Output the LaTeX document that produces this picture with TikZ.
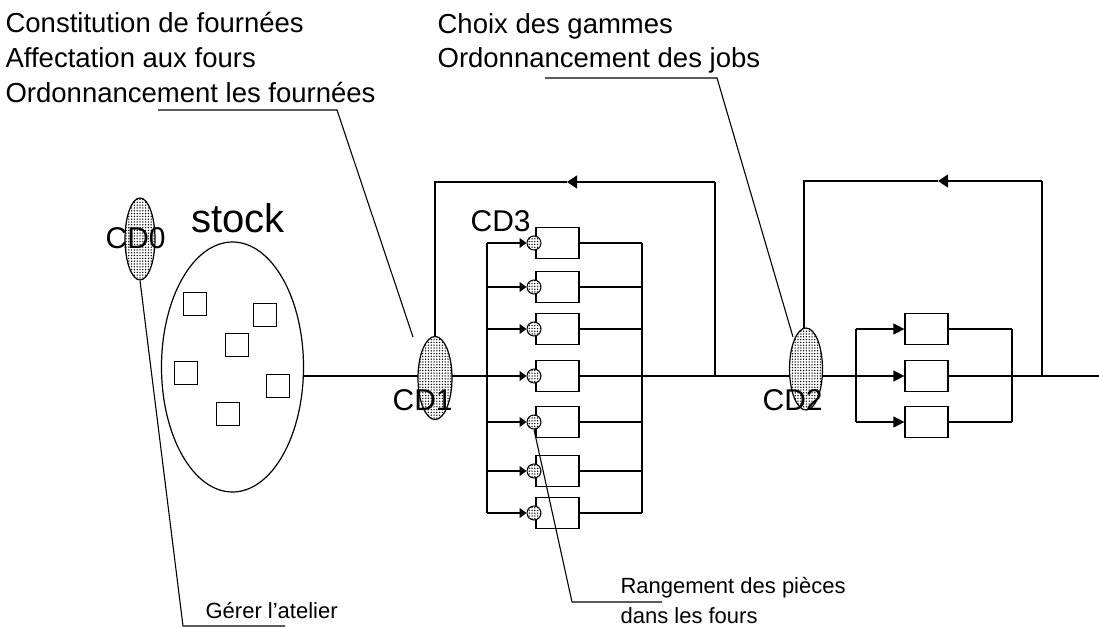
\documentclass[tikz,border=0pt]{standalone}
\usepackage{fontspec}
\setmainfont{Liberation Sans}
\usetikzlibrary{arrows.meta,patterns,shapes.geometric}
\pgfdeclarepatternformonly{mydots}{\pgfqpoint{-1pt}{-1pt}}{\pgfqpoint{1pt}{1pt}}{\pgfqpoint{2.8pt}{2.8pt}}{%
  \pgfpathcircle{\pgfqpoint{0pt}{0pt}}{0.75pt}\pgfusepath{fill}}
\newcommand\anfont{\fontsize{27.5}{33}\selectfont}
\newcommand\cdfont{\fontsize{30}{36}\selectfont}
\newcommand\stfont{\fontsize{40}{46}\selectfont}
\newcommand\smfont{\fontsize{22}{26}\selectfont}
\begin{document}
\begin{tikzpicture}[x=1pt,y=-1pt,line width=1.2pt,
  cdell/.style={ellipse,draw,preaction={fill=white},pattern=mydots,
    minimum width=33pt,minimum height=82pt,inner sep=0pt},
  lbl/.style={anchor=base west,inner sep=0pt},
  item/.style={draw,minimum width=23pt,minimum height=23pt,inner sep=0pt},
  four/.style={draw,fill=white,minimum width=43pt,minimum height=31pt,inner sep=0pt},
  port/.style={circle,draw,preaction={fill=white},pattern=mydots,
    minimum size=14pt,inner sep=0pt,line width=1pt},
  smarr/.style={-{Triangle[length=7pt,width=10pt]}},
  bigarr/.style={-{Triangle[length=11pt,width=11pt]}},
  looparr/.style={-{Triangle[length=10pt,width=13pt]}},
  leader/.style={line width=1.1pt}]
\useasboundingbox (0,0) rectangle (1099,628);

% ---------- texts ----------
\node[lbl,font=\anfont] (ta1) at (5,33) {Constitution de fournées};
\node[lbl,font=\anfont] (ta2) at (5,68) {Affectation aux fours};
\node[lbl,font=\anfont] (ta3) at (5,103) {Ordonnancement les fournées};
\node[lbl,font=\anfont] (tb1) at (437,34) {Choix des gammes};
\node[lbl,font=\anfont] (tb2) at (437,68) {Ordonnancement des jobs};
\node[lbl,font=\smfont] (tc) at (205,618) {Gérer l’atelier};
\node[lbl,font=\smfont] (td1) at (620,593) {Rangement des pièces};
\node[lbl,font=\smfont] (td2) at (620,623) {dans les fours};

% ---------- stock ----------
\node[ellipse,draw,minimum width=142pt,minimum height=250pt,inner sep=0pt] (stock) at (232.5,367) {};
\node[lbl,font=\stfont] (stocklbl) at (191,233) {stock};
\node[item] (s1) at (195,304) {};
\node[item] (s2) at (265,315) {};
\node[item] (s3) at (237,345) {};
\node[item] (s4) at (186,373) {};
\node[item] (s5) at (278,386) {};
\node[item] (s6) at (228,414) {};

% ---------- CD3 group (fours) ----------
\foreach \i/\y in {1/243,2/287,3/329,4/376,5/422,6/471,7/513}{
  \coordinate (L\i) at (487,\y);
  \coordinate (R\i) at (642,\y);
  \node[four] (f\i) at (557.5,\y) {};
  \node[port] (p\i) at (534,\y) {};
}
\draw (L1) -- (L7);
\draw (R1) -- (R7);
\foreach \i in {1,2,3,5,6,7}{
  \draw[smarr] (L\i) -- (p\i.west);
}
\foreach \i in {1,...,7}{
  \draw (f\i.east) -- (R\i);
}

% ---------- CD2 group ----------
\foreach \i/\y in {1/329,2/376,3/422}{
  \coordinate (M\i) at (856,\y);
  \coordinate (N\i) at (1012,\y);
  \node[four] (g\i) at (926.5,\y) {};
}
\draw (M1) -- (M3);
\draw (N1) -- (N3);
\draw[bigarr] (M1) -- (g1.west);
\draw[bigarr] (M3) -- (g3.west);
\foreach \i in {1,2,3}{
  \draw (g\i.east) -- (N\i);
}

% ---------- main line ----------
\coordinate (m0) at (302.8,376);
\coordinate (J1) at (715,376);
\coordinate (J2) at (1042,376);
\coordinate (mend) at (1099,376);
\draw[smarr] (m0) -- (p4.west);
\draw[bigarr] (R4) -- (g2.west);
\draw (N2) -- (mend);

% ---------- feedback loops ----------
\coordinate (A1) at (435,182);
\coordinate (A2) at (715,182);
\coordinate (A3) at (567,182);
\coordinate (B1) at (804,181);
\coordinate (B2) at (1042,181);
\coordinate (B3) at (938,181);
\draw (J1) -- (A2);
\draw[looparr] (A2) -- (A3);
\draw (A3) -- (A1) -- (435,340);
\draw (J2) -- (B2);
\draw[looparr] (B2) -- (B3);
\draw (B3) -- (B1) -- (804,330);

% ---------- decision centres ----------
\node[cdell,minimum width=30pt,minimum height=82pt] (cd0) at (140,239) {};
\node[cdell,minimum width=34pt,minimum height=83pt] (cd1) at (435,378) {};
\node[cdell,minimum width=33pt,minimum height=82pt] (cd2) at (806,369) {};
\node[lbl,font=\cdfont] (cd0l) at (105,248) {CD0};
\node[lbl,font=\cdfont] (cd1l) at (392,410) {CD1};
\node[lbl,font=\cdfont] (cd2l) at (762,410) {CD2};
\node[lbl,font=\cdfont] (cd3l) at (470,232) {CD3};

% ---------- leaders ----------
\coordinate (la1) at (158,110);
\coordinate (la2) at (337,110);
\coordinate (la3) at (413,337);
\draw[leader] (la1) -- (la2) -- (la3);
\coordinate (lb1) at (545,78);
\coordinate (lb2) at (717,78);
\coordinate (lb3) at (793,337);
\draw[leader] (lb1) -- (lb2) -- (lb3);
\coordinate (lc2) at (183,626);
\coordinate (lc3) at (285,626);
\draw[leader] (cd0.south) -- (lc2) -- (lc3);
\coordinate (ld2) at (572,602);
\coordinate (ld3) at (662,602);
\draw[leader] (p5.south) -- (ld2) -- (ld3);
\end{tikzpicture}
\end{document}
